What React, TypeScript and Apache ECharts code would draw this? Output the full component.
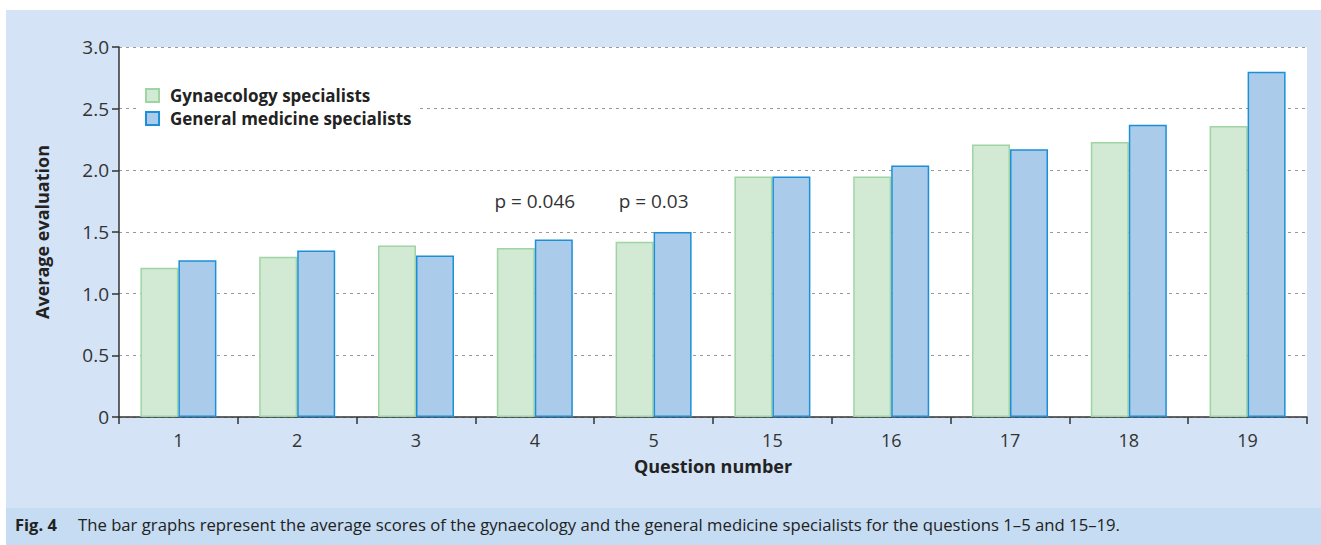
import React, { useEffect, useRef } from "react";
import * as echarts from "echarts";

const categories = ["1", "2", "3", "4", "5", "15", "16", "17", "18", "19"];
const gynaecology = [1.21, 1.3, 1.39, 1.37, 1.42, 1.95, 1.95, 2.21, 2.23, 2.36];
const generalMedicine = [1.27, 1.35, 1.31, 1.44, 1.5, 1.95, 2.04, 2.17, 2.37, 2.8];
const yTicks = [0, 0.5, 1.0, 1.5, 2.0, 2.5, 3.0];
const yTickLabels = ["0", "0.5", "1.0", "1.5", "2.0", "2.5", "3.0"];
const annotations = [
  { category: "4", value: 1.75, text: "p = 0.046" },
  { category: "5", value: 1.75, text: "p = 0.03" },
];

const FONT = "'Open Sans', 'Noto Sans', sans-serif";

export default function App() {
  const ref = useRef<HTMLDivElement>(null);
  useEffect(() => {
    document.body.style.margin = "0";
    if (!ref.current) return;
    const chart = echarts.init(ref.current, null, { renderer: "svg" });
    chart.setOption({
      animation: false,
      textStyle: { fontFamily: FONT },
      graphic: [
        { type: "rect", z: -10, shape: { x: 6, y: 10, width: 1315, height: 498 }, style: { fill: "#d4e3f5" }, silent: true },
        { type: "rect", z: -10, shape: { x: 6, y: 508, width: 1315, height: 37 }, style: { fill: "#c5dcf3" }, silent: true },
        {
          type: "text", left: 15, top: 516,
          style: { text: "Fig. 4", font: `bold 16.5px ${FONT}`, fill: "#222" },
        },
        {
          type: "text", left: 78, top: 516,
          style: {
            text: "The bar graphs represent the average scores of the gynaecology and the general medicine specialists for the questions 1–5 and 15–19.",
            font: `16.7px ${FONT}`, fill: "#222",
          },
        },
      ],
      grid: {
        left: 119, top: 47, right: 14, bottom: 128,
        show: true, backgroundColor: "#ffffff", borderWidth: 0,
      },
      legend: {
        orient: "vertical", left: 137, top: 83,
        backgroundColor: "#ffffff", padding: [4, 8, 4, 8],
        itemWidth: 13, itemHeight: 13, itemGap: 6,
        icon: "rect",
        textStyle: { fontSize: 17, fontWeight: "bold", color: "#222", fontFamily: FONT, padding: [0, 0, 0, 6] },
        data: ["Gynaecology specialists", "General medicine specialists"],
      },
      xAxis: {
        type: "category", data: categories,
        name: "Question number", nameLocation: "middle", nameGap: 40,
        nameTextStyle: { fontSize: 18, fontWeight: "bold", color: "#222", fontFamily: FONT },
        axisLine: { lineStyle: { color: "#333", width: 1.5 } },
        axisTick: { show: true, length: 7, lineStyle: { color: "#333", width: 1.5 } },
        axisLabel: { fontSize: 18, color: "#333", margin: 14, fontFamily: FONT },
        splitLine: { show: false },
      },
      yAxis: {
        type: "value", min: 0, max: 3, interval: 0.5,
        name: "Average evaluation", nameLocation: "middle", nameGap: 68,
        nameTextStyle: { fontSize: 18, fontWeight: "bold", color: "#222", fontFamily: FONT },
        axisLine: { show: true, lineStyle: { color: "#333", width: 1.5 } },
        axisTick: { show: true, length: 7, lineStyle: { color: "#333", width: 1.5 } },
        axisLabel: {
          fontSize: 19, color: "#333", margin: 10, fontFamily: FONT,
          formatter: (v: number) => {
            const i = yTicks.findIndex((t) => Math.abs(t - v) < 1e-6);
            return i >= 0 ? yTickLabels[i] : String(v);
          },
        },
        splitLine: { show: true, lineStyle: { color: "#999", type: [3, 4], width: 1.2 } },
      },
      series: [
        {
          name: "Gynaecology specialists", type: "bar", data: gynaecology,
          barWidth: 38, barGap: "0%",
          itemStyle: { color: "#d2e9d3", borderColor: "#9fd4a4", borderWidth: 1.5 },
          markPoint: {
            symbol: "circle", symbolSize: 0,
            label: {
              show: true, fontSize: 19, color: "#333", fontFamily: FONT,
              offset: [19, 0],
              formatter: (p: any) => p.name,
            },
            data: annotations.map((a) => ({ name: a.text, coord: [a.category, a.value] })),
          },
        },
        {
          name: "General medicine specialists", type: "bar", data: generalMedicine,
          barWidth: 38, barGap: "0%",
          itemStyle: { color: "#abcbeb", borderColor: "#1b90d8", borderWidth: 1.5 },
        },
      ],
    });
    return () => chart.dispose();
  }, []);
  return <div ref={ref} style={{ width: 1321, height: 545 }} />;
}
